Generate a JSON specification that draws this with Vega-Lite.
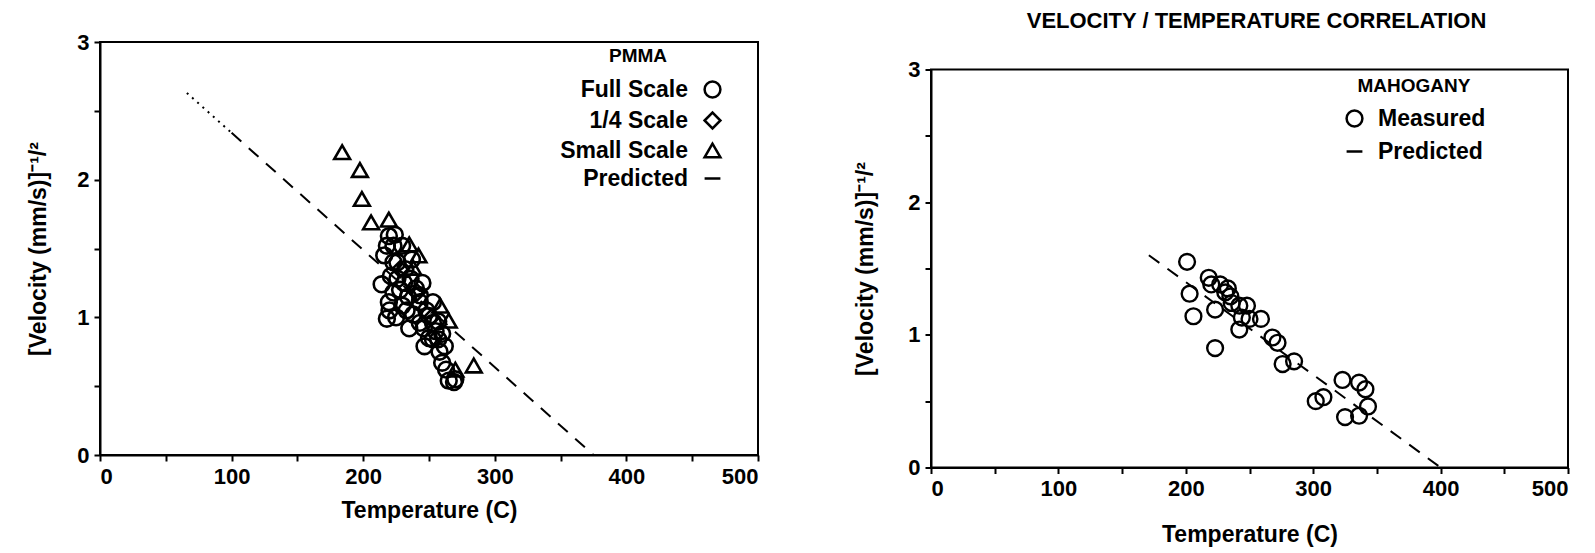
{
  "$schema": "https://vega.github.io/schema/vega-lite/v6.json",
  "background": "white",
  "padding": {"left": 26, "top": 10, "right": 2, "bottom": 2},
  "config": {
    "font": "Liberation Sans",
    "view": {"stroke": "black", "strokeWidth": 2},
    "axis": {
      "domainColor": "black", "domainWidth": 2, "tickColor": "black", "tickWidth": 2, "tickSize": 6,
      "grid": false, "labelFont": "Liberation Sans", "labelFontWeight": "bold", "labelFontSize": 22,
      "labelColor": "black", "titleFont": "Liberation Sans", "titleFontWeight": "bold", "titleFontSize": 23,
      "titleColor": "black", "labelPadding": 5
    },
    "legend": {
      "labelFont": "Liberation Sans", "labelFontWeight": "bold", "labelFontSize": 23, "labelColor": "black",
      "titleFont": "Liberation Sans", "titleFontWeight": "bold", "titleFontSize": 19, "titleColor": "black",
      "symbolStrokeWidth": 2.5, "symbolSize": 250, "symbolStrokeColor": "black", "padding": 0
    },
    "concat": {"spacing": 93}
  },
  "resolve": {"scale": {"shape": "independent"}, "legend": {"shape": "independent"}},
  "hconcat": [
    {
      "width": 658,
      "height": 413,
      "layer": [
        {
          "data": {"values": [
            {"T": 66, "V": 2.63, "part": "dotted"},
            {"T": 100, "V": 2.34, "part": "dotted"},
            {"T": 100, "V": 2.34, "part": "dashed"},
            {"T": 375, "V": 0.0, "part": "dashed"}
          ]},
          "mark": {"type": "line", "color": "black", "strokeWidth": 2},
          "encoding": {
            "x": {"field": "T", "type": "quantitative", "scale": {"domain": [0, 500], "nice": false},
              "axis": {"values": [0, 50, 100, 150, 200, 250, 300, 350, 400, 450, 500],
                "labelExpr": "datum.value % 100 === 0 ? format(datum.value, 'd') : ''",
                "title": "Temperature (C)", "titlePadding": 12}},
            "y": {"field": "V", "type": "quantitative", "scale": {"domain": [0, 3], "nice": false},
              "axis": {"values": [0, 0.5, 1, 1.5, 2, 2.5, 3],
                "labelExpr": "datum.value % 1 === 0 ? format(datum.value, 'd') : ''",
                "title": "[Velocity (mm/s)]⁻¹/²", "titlePadding": 26}},
            "strokeDash": {"field": "part", "type": "nominal",
              "scale": {"domain": ["dotted", "dashed"], "range": [[2, 5], [13, 10]]}, "legend": null}
          }
        },
        {
          "data": {"values": [
            {"T": 214, "V": 1.24, "scale": "Full Scale"},
            {"T": 218, "V": 0.99, "scale": "Full Scale"},
            {"T": 219.5, "V": 1.59, "scale": "Full Scale"},
            {"T": 223, "V": 1.52, "scale": "Full Scale"},
            {"T": 226, "V": 1.40, "scale": "Full Scale"},
            {"T": 229.6, "V": 1.52, "scale": "Full Scale"},
            {"T": 223, "V": 1.18, "scale": "Full Scale"},
            {"T": 229.7, "V": 1.085, "scale": "Full Scale"},
            {"T": 235, "V": 0.92, "scale": "Full Scale"},
            {"T": 240, "V": 1.21, "scale": "Full Scale"},
            {"T": 243, "V": 1.11, "scale": "Full Scale"},
            {"T": 246.6, "V": 0.79, "scale": "Full Scale"},
            {"T": 253, "V": 0.96, "scale": "Full Scale"},
            {"T": 257, "V": 0.84, "scale": "Full Scale"},
            {"T": 260, "V": 0.67, "scale": "Full Scale"},
            {"T": 269, "V": 0.53, "scale": "Full Scale"},
            {"T": 265, "V": 0.54, "scale": "Full Scale"},
            {"T": 250, "V": 1.01, "scale": "Full Scale"},
            {"T": 219.5, "V": 1.11, "scale": "Full Scale"},
            {"T": 226, "V": 1.28, "scale": "Full Scale"},
            {"T": 236, "V": 1.28, "scale": "Full Scale"},
            {"T": 243, "V": 0.96, "scale": "Full Scale"},
            {"T": 253, "V": 0.84, "scale": "Full Scale"},
            {"T": 257, "V": 0.97, "scale": "Full Scale"},
            {"T": 262, "V": 0.79, "scale": "Full Scale"},
            {"T": 216, "V": 1.45, "scale": "Full Scale"},
            {"T": 223, "V": 1.40, "scale": "Full Scale"},
            {"T": 231, "V": 1.25, "scale": "Full Scale"},
            {"T": 243, "V": 1.16, "scale": "Full Scale"},
            {"T": 253, "V": 1.11, "scale": "Full Scale"},
            {"T": 246, "V": 0.92, "scale": "Full Scale"},
            {"T": 258, "V": 0.75, "scale": "Full Scale"},
            {"T": 220, "V": 1.05, "scale": "Full Scale"},
            {"T": 225, "V": 1.0, "scale": "Full Scale"},
            {"T": 233, "V": 1.05, "scale": "Full Scale"},
            {"T": 238, "V": 1.02, "scale": "Full Scale"},
            {"T": 248, "V": 1.05, "scale": "Full Scale"},
            {"T": 255, "V": 0.9, "scale": "Full Scale"},
            {"T": 260, "V": 0.88, "scale": "Full Scale"},
            {"T": 232, "V": 1.35, "scale": "Full Scale"},
            {"T": 237, "V": 1.42, "scale": "Full Scale"},
            {"T": 228, "V": 1.2, "scale": "Full Scale"},
            {"T": 234, "V": 1.15, "scale": "Full Scale"},
            {"T": 245, "V": 1.25, "scale": "Full Scale"},
            {"T": 250, "V": 0.85, "scale": "Full Scale"},
            {"T": 263, "V": 0.62, "scale": "Full Scale"},
            {"T": 270, "V": 0.55, "scale": "Full Scale"},
            {"T": 221, "V": 1.3, "scale": "Full Scale"},
            {"T": 218, "V": 1.52, "scale": "Full Scale"},
            {"T": 224, "V": 1.6, "scale": "Full Scale"},
            {"T": 228, "V": 1.35, "scale": "1/4 Scale"},
            {"T": 241, "V": 1.18, "scale": "1/4 Scale"},
            {"T": 252, "V": 1.0, "scale": "1/4 Scale"},
            {"T": 184, "V": 2.20, "scale": "Small Scale"},
            {"T": 197.5, "V": 2.07, "scale": "Small Scale"},
            {"T": 199, "V": 1.86, "scale": "Small Scale"},
            {"T": 206, "V": 1.69, "scale": "Small Scale"},
            {"T": 219.5, "V": 1.71, "scale": "Small Scale"},
            {"T": 235, "V": 1.53, "scale": "Small Scale"},
            {"T": 242, "V": 1.45, "scale": "Small Scale"},
            {"T": 238, "V": 1.36, "scale": "Small Scale"},
            {"T": 258.5, "V": 1.085, "scale": "Small Scale"},
            {"T": 265, "V": 0.976, "scale": "Small Scale"},
            {"T": 284, "V": 0.65, "scale": "Small Scale"},
            {"T": 270, "V": 0.62, "scale": "Small Scale"}
          ]},
          "mark": {"type": "point", "filled": false, "color": "black", "strokeWidth": 2.6, "size": 250, "opacity": 1},
          "encoding": {
            "x": {"field": "T", "type": "quantitative"},
            "y": {"field": "V", "type": "quantitative"},
            "shape": {"field": "scale", "type": "nominal",
              "scale": {"domain": ["Full Scale", "1/4 Scale", "Small Scale", "Predicted"],
                "range": ["circle", "diamond", "triangle-up", "stroke"]},
              "legend": {"title": "PMMA", "orient": "none", "legendX": 451, "legendY": 5,
                "labelAlign": "right", "symbolOffset": 150, "labelOffset": -36, "titleAnchor": "middle",
                "rowPadding": 4, "titlePadding": 12}}
          }
        }
      ]
    },
    {
      "spacing": 14.5,
      "vconcat": [
        {
          "width": 637,
          "height": 1,
          "view": {"stroke": null},
          "title": {"text": "VELOCITY / TEMPERATURE CORRELATION", "font": "Liberation Sans",
            "fontSize": 22, "fontWeight": "bold", "color": "black", "offset": 9, "anchor": "middle", "dx": 7},
          "data": {"values": []},
          "mark": {"type": "text"},
          "encoding": {}
        },
        {
          "width": 637,
          "height": 398,
          "layer": [
            {
              "data": {"values": [
                {"T": 171, "V": 1.6},
                {"T": 400, "V": 0.0}
              ]},
              "mark": {"type": "line", "color": "black", "strokeWidth": 2, "strokeDash": [13, 10]},
              "encoding": {
                "x": {"field": "T", "type": "quantitative", "scale": {"domain": [0, 500], "nice": false},
                  "axis": {"values": [0, 50, 100, 150, 200, 250, 300, 350, 400, 450, 500],
                    "labelExpr": "datum.value % 100 === 0 ? format(datum.value, 'd') : ''",
                    "title": "Temperature (C)", "titlePadding": 24}},
                "y": {"field": "V", "type": "quantitative", "scale": {"domain": [0, 3], "nice": false},
                  "axis": {"values": [0, 0.5, 1, 1.5, 2, 2.5, 3],
                    "labelExpr": "datum.value % 1 === 0 ? format(datum.value, 'd') : ''",
                    "title": "[Velocity (mm/s)]⁻¹/²", "titlePadding": 30}}
              }
            },
            {
              "data": {"values": [
                {"T": 201, "V": 1.55, "type": "Measured"},
                {"T": 203, "V": 1.31, "type": "Measured"},
                {"T": 206, "V": 1.14, "type": "Measured"},
                {"T": 223, "V": 0.90, "type": "Measured"},
                {"T": 218, "V": 1.43, "type": "Measured"},
                {"T": 220, "V": 1.38, "type": "Measured"},
                {"T": 223, "V": 1.19, "type": "Measured"},
                {"T": 227, "V": 1.38, "type": "Measured"},
                {"T": 233, "V": 1.35, "type": "Measured"},
                {"T": 235, "V": 1.29, "type": "Measured"},
                {"T": 236, "V": 1.24, "type": "Measured"},
                {"T": 242, "V": 1.22, "type": "Measured"},
                {"T": 248, "V": 1.22, "type": "Measured"},
                {"T": 244, "V": 1.13, "type": "Measured"},
                {"T": 242, "V": 1.04, "type": "Measured"},
                {"T": 250, "V": 1.12, "type": "Measured"},
                {"T": 259, "V": 1.12, "type": "Measured"},
                {"T": 268, "V": 0.98, "type": "Measured"},
                {"T": 272, "V": 0.94, "type": "Measured"},
                {"T": 276, "V": 0.78, "type": "Measured"},
                {"T": 285, "V": 0.80, "type": "Measured"},
                {"T": 302, "V": 0.50, "type": "Measured"},
                {"T": 308, "V": 0.53, "type": "Measured"},
                {"T": 323, "V": 0.66, "type": "Measured"},
                {"T": 325, "V": 0.38, "type": "Measured"},
                {"T": 336, "V": 0.39, "type": "Measured"},
                {"T": 336, "V": 0.64, "type": "Measured"},
                {"T": 341, "V": 0.59, "type": "Measured"},
                {"T": 343, "V": 0.46, "type": "Measured"},
                {"T": 231, "V": 1.32, "type": "Measured"}
              ]},
              "mark": {"type": "point", "filled": false, "color": "black", "strokeWidth": 2.4, "size": 250, "opacity": 1},
              "encoding": {
                "x": {"field": "T", "type": "quantitative"},
                "y": {"field": "V", "type": "quantitative"},
                "shape": {"field": "type", "type": "nominal",
                  "scale": {"domain": ["Measured", "Predicted"], "range": ["circle", "stroke"]},
                  "legend": {"title": "MAHOGANY", "orient": "none", "legendX": 412, "legendY": 35,
                    "titleAnchor": "middle", "rowPadding": 8, "titlePadding": 11, "labelOffset": 12}}
              }
            }
          ]
        }
      ]
    }
  ]
}
